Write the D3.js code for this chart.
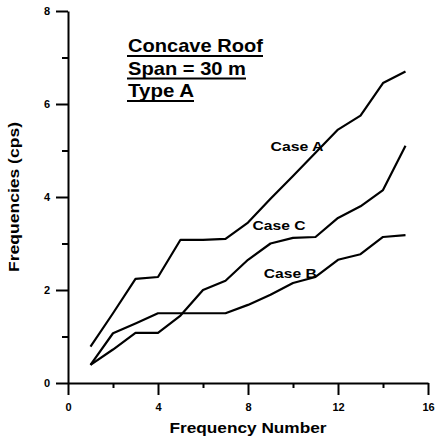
<!DOCTYPE html>
<html><head><meta charset="utf-8">
<script src="https://cdn.jsdelivr.net/npm/d3@7"></script>
<style>body{margin:0;background:#fff}svg{display:block}text{font-family:"Liberation Sans",Arial,sans-serif;fill:#000}</style>
</head><body><svg id="c" width="437" height="440"></svg>
<script>
const freqNumbers = [1,2,3,4,5,6,7,8,9,10,11,12,13,14,15];
const caseA = [0.78,1.50,2.24,2.28,3.08,3.08,3.10,3.45,3.96,4.45,4.95,5.45,5.75,6.45,6.70];
const caseB = [0.39,1.07,1.28,1.50,1.50,1.50,1.50,1.68,1.90,2.15,2.28,2.65,2.77,3.14,3.18];
const caseC = [0.39,0.72,1.08,1.08,1.45,2.00,2.20,2.65,3.00,3.12,3.14,3.55,3.80,4.15,5.10];
const xMajorTicks = [0,4,8,12,16];
const xMinorTicks = [2,6,10,14];
const yMajorTicks = [0,2,4,6,8];
const yMinorTicks = [1,3,5,7];
const titleLines = ["Concave Roof","Span = 30 m","Type A"];
const caseLabels = [{name:"Case A", n:9.0, v:5.0},{name:"Case C", n:8.2, v:3.3},{name:"Case B", n:8.7, v:2.25}];

const svg = d3.select("#c");
const x = d3.scaleLinear().domain([0,16]).range([68,428]);
const y = d3.scaleLinear().domain([0,8]).range([383,11]);

// axes
const yMaj = svg.append("g").attr("transform",`translate(${x(0)},0)`)
  .call(d3.axisLeft(y).tickValues(yMajorTicks).tickSize(12).tickSizeOuter(0).tickPadding(6).tickFormat(d3.format("d")));
const yMin = svg.append("g").attr("transform",`translate(${x(0)},0)`)
  .call(d3.axisLeft(y).tickValues(yMinorTicks).tickSize(6).tickFormat(""));
yMin.select(".domain").remove();
const xMaj = svg.append("g").attr("transform",`translate(0,${y(0)})`)
  .call(d3.axisBottom(x).tickValues(xMajorTicks).tickSize(12).tickSizeOuter(0).tickPadding(8).tickFormat(d3.format("d")));
const xMin = svg.append("g").attr("transform",`translate(0,${y(0)})`)
  .call(d3.axisBottom(x).tickValues(xMinorTicks).tickSize(5).tickFormat(""));
xMin.select(".domain").remove();
svg.selectAll(".domain").attr("stroke","#000").attr("stroke-width",2);
svg.selectAll(".tick line").attr("stroke","#000").attr("stroke-width",2);
svg.selectAll(".tick text").attr("font-size",11).attr("font-weight","bold")
  .attr("font-family","'Liberation Sans',Arial,sans-serif").attr("fill","#000");

// axis titles
svg.append("text").attr("x",248).attr("y",433).attr("text-anchor","middle")
  .attr("font-size",14).attr("font-weight","bold").attr("textLength",157).attr("lengthAdjust","spacingAndGlyphs")
  .text("Frequency Number");
svg.append("text").attr("transform","translate(19,197) rotate(-90)").attr("text-anchor","middle")
  .attr("font-size",14).attr("font-weight","bold").attr("textLength",150).attr("lengthAdjust","spacingAndGlyphs")
  .text("Frequencies (cps)");

// lines
const line = d3.line().x((d,i)=>x(freqNumbers[i])).y(d=>y(d));
[caseA,caseB,caseC].forEach(s=>{
  svg.append("path").datum(s).attr("d",line).attr("fill","none").attr("stroke","#000")
    .attr("stroke-width",2.2).attr("stroke-linejoin","round");
});

// case labels
caseLabels.forEach(c=>{
  svg.append("text").attr("x",x(c.n)).attr("y",y(c.v)).attr("font-size",13).attr("font-weight","bold")
    .attr("textLength",53).attr("lengthAdjust","spacingAndGlyphs").text(c.name);
});

// title block
const widths = [135,118,66];
titleLines.forEach((t,i)=>{
  const by = 52 + i*22.5;
  svg.append("text").attr("x",128).attr("y",by).attr("font-size",19).attr("font-weight","bold")
    .attr("textLength",widths[i]).attr("lengthAdjust","spacingAndGlyphs").text(t);
  svg.append("line").attr("x1",127).attr("x2",128+widths[i]).attr("y1",by+4).attr("y2",by+4)
    .attr("stroke","#000").attr("stroke-width",2);
});
</script></body></html>
